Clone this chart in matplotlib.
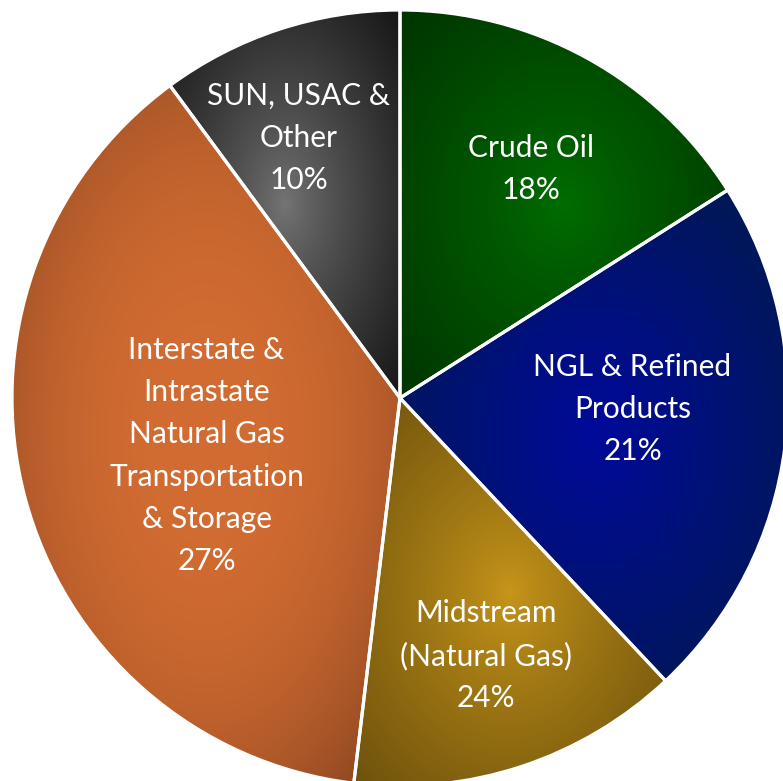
import numpy as np
import matplotlib
matplotlib.use('Agg')
import matplotlib.pyplot as plt
from matplotlib.colors import to_rgb

# slice sizes as drawn (degrees -> share)
segments = ['Crude Oil', 'NGL & Refined Products', 'Midstream (Natural Gas)',
            'Interstate & Intrastate Natural Gas Transportation & Storage',
            'SUN, USAC & Other']
shares = [16.0, 22.0, 13.9, 38.0, 10.1]
# percentages printed in the labels
label_pcts = [18, 21, 24, 27, 10]
label_lines = [
    ['Crude Oil'],
    ['NGL & Refined', 'Products'],
    ['Midstream', '(Natural Gas)'],
    ['Interstate &', 'Intrastate', 'Natural Gas', 'Transportation', '& Storage'],
    ['SUN, USAC &', 'Other'],
]
bright = ['#006E00', '#000A9A', '#C8961A', '#D26C32', '#767676']
dark = ['#003400', '#001A4A', '#6E520C', '#7A3C1C', '#161616']
falloff = [0.85, 1.0, 0.8, 2.6, 0.8]   # shading exponent per slice

# label anchor: (angle deg, fraction of radius)
label_pos = [(60.2, 0.68), (-2.7, 0.60), (-71.6, 0.70), (196.6, 0.52), (111.3, 0.72)]

W, H = 783, 781
cx, cy, R = 400, H - 398, 388
step = 42.3

fig = plt.figure(figsize=(W / 100, H / 100), dpi=100)
ax = fig.add_axes([0, 0, 1, 1])

wedges, _ = ax.pie(shares, startangle=90, counterclock=False, radius=R,
                   center=(cx, cy), frame=True,
                   wedgeprops=dict(facecolor='none', edgecolor='white', linewidth=2.3, zorder=3))

xx, yy = np.meshgrid(np.arange(W) + 0.5, np.arange(H) + 0.5)
yy = H - yy  # image rows top -> bottom

for w, b, d, p in zip(wedges, bright, dark, falloff):
    # bounding box of the wedge -> centre of the radial shading
    ang = np.linspace(np.radians(w.theta1), np.radians(w.theta2), 200)
    px = np.r_[cx, cx + R * np.cos(ang)]
    py = np.r_[cy, cy + R * np.sin(ang)]
    gx, gy = (px.min() + px.max()) / 2, (py.min() + py.max()) / 2
    hw, hh = (px.max() - px.min()) / 2, (py.max() - py.min()) / 2
    # ellipse through the bbox corners
    t = np.sqrt(((xx - gx) / hw) ** 2 + ((yy - gy) / hh) ** 2) / np.sqrt(2)
    t = (np.clip(t, 0, 1) ** p)[..., None]
    img = (1 - t) * np.array(to_rgb(b)) + t * np.array(to_rgb(d))
    im = ax.imshow(img, extent=(0, W, 0, H), origin='upper', zorder=1, interpolation='bilinear')
    im.set_clip_path(w)

for lines, pct, (a, f) in zip(label_lines, label_pcts, label_pos):
    lines = lines + [f'{pct}%']
    x0 = cx + f * R * np.cos(np.radians(a))
    y0 = cy + f * R * np.sin(np.radians(a))
    n = len(lines)
    for i, s in enumerate(lines):
        ax.text(x0, y0 + ((n - 1) / 2 - i) * step, s, ha='center', va='center',
                color='white', fontsize=21.5, family='Lato', zorder=4)

ax.set_xlim(0, W)
ax.set_ylim(0, H)
ax.set_aspect('equal')
ax.set_axis_off()

fig.savefig('out.png', dpi=100)
